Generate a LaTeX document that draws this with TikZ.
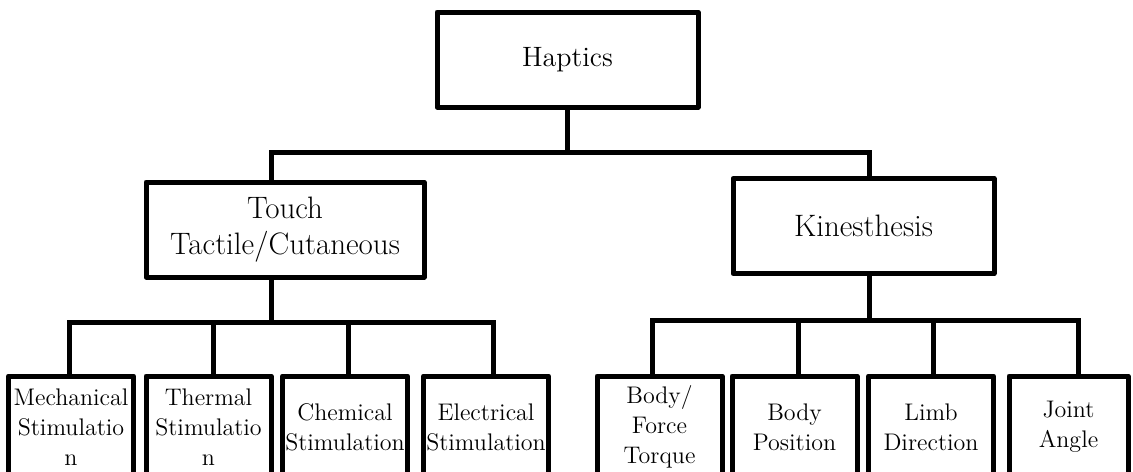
\documentclass[tikz,border=0pt]{standalone}
\usepackage{fontspec}
\usetikzlibrary{positioning}
\tikzstyle{block} = [rectangle, draw, line width=2.5pt, line join=round, align=center, inner sep=0pt]
\tikzstyle{root} = [block, minimum width=130.5pt, minimum height=47.5pt, font=\fontsize{14}{17}\selectfont]
\tikzstyle{branch} = [block, minimum height=47.5pt, font=\fontsize{15.5}{18}\selectfont]
\tikzstyle{leaf} = [block, minimum width=62.5pt, minimum height=51pt, font=\fontsize{12}{15}\selectfont]
\tikzstyle{link} = [line width=2.5pt]

\begin{document}
\begin{tikzpicture}[x=0.5pt, y=-0.5pt]
    \useasboundingbox (0,0) rectangle (1133,471);

    % Top levels
    \node (haptics) [root] at (567.5,59.5) {Haptics};
    \node (touch) [branch, minimum width=139pt] at (285,229.5) {Touch\\Tactile/Cutaneous};
    \node (kin) [branch, minimum width=130.5pt] at (863.5,226) {Kinesthesis};

    % Touch leaves
    \node (mech) [leaf] at (71,427) {Mechanical\\Stimulatio\\n};
    \node (therm) [leaf] at (208.5,427) {Thermal\\Stimulatio\\n};
    \node (chem) [leaf] at (345,427) {Chemical\\Stimulation};
    \node (elec) [leaf] at (486,427) {Electrical\\Stimulation};

    % Kinesthesis leaves
    \node (force) [leaf] at (659.5,427) {Body/\\Force\\Torque};
    \node (pos) [leaf] at (794.5,427) {Body\\Position};
    \node (limb) [leaf] at (931,427) {Limb\\Direction};
    \node (joint) [leaf, minimum width=59.5pt] at (1068.5,427) {Joint\\Angle};

    % ==== Bars
    \coordinate (hleft) at (271,152);
    \coordinate (hright) at (869,152);
    \coordinate (tleft) at (69,322);
    \coordinate (t2) at (213,322);
    \coordinate (t3) at (348,322);
    \coordinate (tright) at (493,322);
    \coordinate (kleft) at (652,320);
    \coordinate (k2) at (798,320);
    \coordinate (k3) at (933,320);
    \coordinate (kright) at (1078,320);

    % ==== Links
    \draw [link] (haptics.south) -- (haptics.south |- hleft);
    \draw [link] (touch.north -| hleft) -- (hleft) -- (hright) -- (kin.north -| hright);

    \draw [link] (touch.south -| hleft) -- (hleft |- tleft);
    \draw [link] (mech.north -| tleft) -- (tleft) -- (tright) -- (elec.north -| tright);
    \draw [link] (therm.north -| t2) -- (t2);
    \draw [link] (chem.north -| t3) -- (t3);

    \draw [link] (kin.south -| hright) -- (hright |- kleft);
    \draw [link] (force.north -| kleft) -- (kleft) -- (kright) -- (joint.north -| kright);
    \draw [link] (pos.north -| k2) -- (k2);
    \draw [link] (limb.north -| k3) -- (k3);

\end{tikzpicture}
\end{document}
